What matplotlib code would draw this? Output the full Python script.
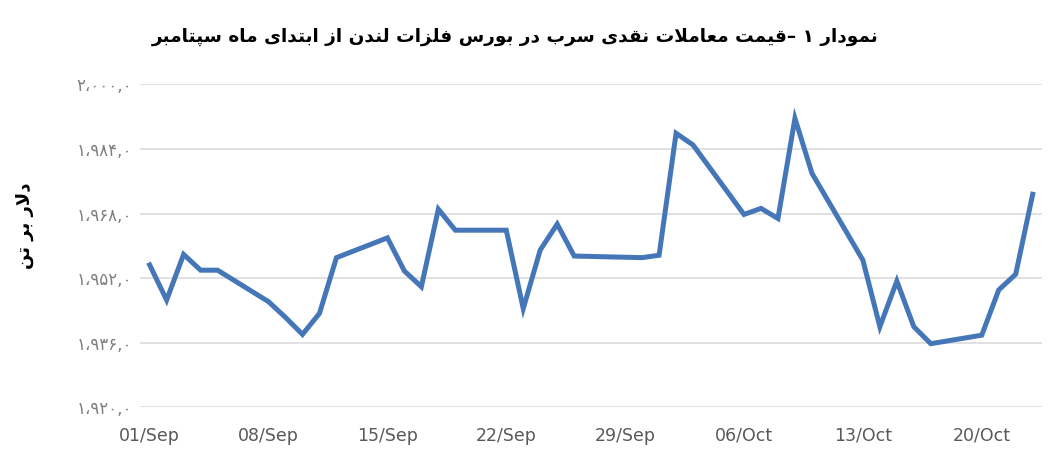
import re
import datetime as dt
import matplotlib
matplotlib.use("Agg")
import matplotlib.pyplot as plt
import matplotlib.dates as mdates
import matplotlib.ticker as mticker

# LME lead cash price, trading days from 1 Sep
dates = [
    "2025-09-01", "2025-09-02", "2025-09-03", "2025-09-04", "2025-09-05",
    "2025-09-08", "2025-09-09", "2025-09-10", "2025-09-11", "2025-09-12",
    "2025-09-15", "2025-09-16", "2025-09-17", "2025-09-18", "2025-09-19",
    "2025-09-22", "2025-09-23", "2025-09-24", "2025-09-25", "2025-09-26",
    "2025-09-29", "2025-09-30", "2025-10-01", "2025-10-02", "2025-10-03",
    "2025-10-06", "2025-10-07", "2025-10-08", "2025-10-09", "2025-10-10",
    "2025-10-13", "2025-10-14", "2025-10-15", "2025-10-16", "2025-10-17",
    "2025-10-20", "2025-10-21", "2025-10-22", "2025-10-23",
]
prices = [
    1955.3, 1946.6, 1957.9, 1954.0, 1954.0,
    1946.2, 1942.3, 1938.1, 1943.3, 1957.1,
    1962.0, 1953.8, 1949.9, 1969.1, 1963.9,
    1963.9, 1944.5, 1959.0, 1965.4, 1957.5,
    1957.2, 1957.1, 1957.7, 1987.9, 1985.0,
    1967.8, 1969.3, 1966.8, 1991.6, 1978.0,
    1956.5, 1940.0, 1951.3, 1940.0, 1935.8,
    1937.9, 1949.1, 1953.0, 1972.8,
]
y_ticks = [1920, 1936, 1952, 1968, 1984, 2000]

title_text = "نمودار ۱ –قیمت معاملات نقدی سرب در بورس فلزات لندن از ابتدای ماه سپتامبر"
ylabel_text = "دلار بر تن"

# minimal Persian shaping: (isolated, final, initial, medial)
FORMS = {
    'ا': ('\uFE8D', '\uFE8E', None, None),
    'ب': ('\uFE8F', '\uFE90', '\uFE91', '\uFE92'),
    'پ': ('\uFB56', '\uFB57', '\uFB58', '\uFB59'),
    'ت': ('\uFE95', '\uFE96', '\uFE97', '\uFE98'),
    'د': ('\uFEA9', '\uFEAA', None, None),
    'ر': ('\uFEAD', '\uFEAE', None, None),
    'ز': ('\uFEAF', '\uFEB0', None, None),
    'س': ('\uFEB1', '\uFEB2', '\uFEB3', '\uFEB4'),
    'ع': ('\uFEC9', '\uFECA', '\uFECB', '\uFECC'),
    'ف': ('\uFED1', '\uFED2', '\uFED3', '\uFED4'),
    'ق': ('\uFED5', '\uFED6', '\uFED7', '\uFED8'),
    'ل': ('\uFEDD', '\uFEDE', '\uFEDF', '\uFEE0'),
    'م': ('\uFEE1', '\uFEE2', '\uFEE3', '\uFEE4'),
    'ن': ('\uFEE5', '\uFEE6', '\uFEE7', '\uFEE8'),
    'ه': ('\uFEE9', '\uFEEA', '\uFEEB', '\uFEEC'),
    'و': ('\uFEED', '\uFEEE', None, None),
    'ی': ('\uFBFC', '\uFBFD', '\uFBFE', '\uFBFF'),
}


def joins_next(c):
    return c in FORMS and FORMS[c][2] is not None


def shape(text):
    out = []
    i = 0
    while i < len(text):
        c = text[i]
        prev = text[i - 1] if i > 0 else ''
        nxt = text[i + 1] if i + 1 < len(text) else ''
        if c == 'ل' and nxt == 'ا':
            out.append('\uFEFC' if joins_next(prev) else '\uFEFB')
            i += 2
            continue
        if c not in FORMS:
            out.append(c)
            i += 1
            continue
        iso, fin, ini, med = FORMS[c]
        a = joins_next(prev)
        b = joins_next(c) and nxt in FORMS
        out.append(med if a and b else fin if a else ini if b else iso)
        i += 1
    return ''.join(out)


def rtl(text):
    s = shape(text)
    runs = re.findall(r'[0-9\u06F0-\u06F9]+|[^0-9\u06F0-\u06F9]+', s)
    return ''.join(r if r[0].isdigit() else r[::-1] for r in reversed(runs))


fa_digits = str.maketrans('0123456789', '۰۱۲۳۴۵۶۷۸۹')


def fa_tick(v, pos):
    return f"{v:,.1f}".replace(',', '،').replace('.', ',').translate(fa_digits)


x = [dt.datetime.strptime(d, "%Y-%m-%d") for d in dates]

fig = plt.figure(figsize=(10.62, 4.62), dpi=100)
ax = fig.add_axes([0.1318, 0.118, 0.8494, 0.6993])

ax.plot(x, prices, color='#4577B8', linewidth=3.6, solid_joinstyle='miter')

start = mdates.date2num(x[0])
ax.set_xlim(start - 0.57, start + 52.55)
ax.set_ylim(1920, 2000)
ax.set_yticks(y_ticks)
ax.yaxis.set_major_formatter(mticker.FuncFormatter(fa_tick))
ax.xaxis.set_major_locator(mdates.WeekdayLocator(byweekday=mdates.MO))
ax.xaxis.set_major_formatter(mdates.DateFormatter('%d/%b'))

ax.grid(axis='y', color='#D9D9D9', linewidth=1.1)
ax.set_axisbelow(True)
for s in ax.spines.values():
    s.set_visible(False)
ax.tick_params(axis='x', length=0, pad=14, labelsize=12.5, labelcolor='#595959')
ax.tick_params(axis='y', length=0, pad=5.5, labelsize=12, labelcolor='#7F7F7F')

fig.text(0.4854, 1 - 37 / 462, rtl(title_text), ha='center', va='center',
         fontsize=13.3, fontweight='bold', color='black', family='DejaVu Sans')
fig.text(0.0235, 1 - 226 / 462, rtl(ylabel_text), ha='center', va='center',
         rotation=90, fontsize=13, fontweight='bold', color='black', family='DejaVu Sans')

fig.savefig('out.png', dpi=100)
